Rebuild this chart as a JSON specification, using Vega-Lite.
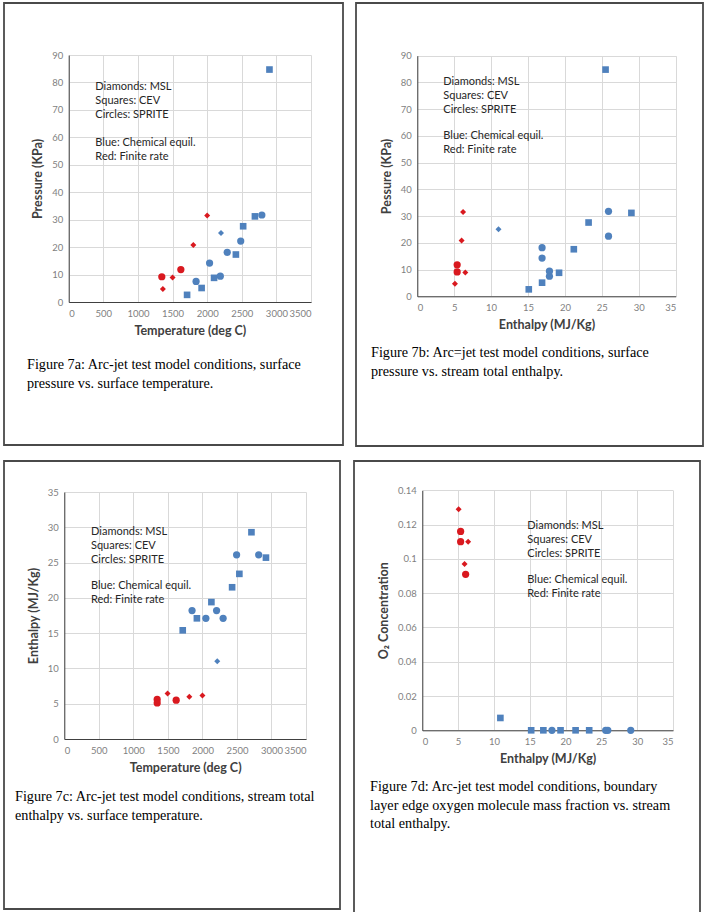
{
  "$schema": "https://vega.github.io/schema/vega-lite/v6.json",
  "padding": {"left": 3, "top": 2, "right": 0, "bottom": 0},
  "background": "white",
  "datasets": {
    "a": [
      {"vehicle": "CEV", "model": "Chemical equil.", "temperature": 2900, "pressure": 84.7},
      {"vehicle": "CEV", "model": "Chemical equil.", "temperature": 2690, "pressure": 31.2},
      {"vehicle": "CEV", "model": "Chemical equil.", "temperature": 2520, "pressure": 27.6},
      {"vehicle": "CEV", "model": "Chemical equil.", "temperature": 2415, "pressure": 17.3},
      {"vehicle": "CEV", "model": "Chemical equil.", "temperature": 2100, "pressure": 8.8},
      {"vehicle": "CEV", "model": "Chemical equil.", "temperature": 1920, "pressure": 5.1},
      {"vehicle": "CEV", "model": "Chemical equil.", "temperature": 1710, "pressure": 2.6},
      {"vehicle": "SPRITE", "model": "Chemical equil.", "temperature": 2790, "pressure": 31.7},
      {"vehicle": "SPRITE", "model": "Chemical equil.", "temperature": 2485, "pressure": 22.2},
      {"vehicle": "SPRITE", "model": "Chemical equil.", "temperature": 2290, "pressure": 18.1},
      {"vehicle": "SPRITE", "model": "Chemical equil.", "temperature": 2035, "pressure": 14.2},
      {"vehicle": "SPRITE", "model": "Chemical equil.", "temperature": 2190, "pressure": 9.4},
      {"vehicle": "SPRITE", "model": "Chemical equil.", "temperature": 1840, "pressure": 7.5},
      {"vehicle": "MSL", "model": "Chemical equil.", "temperature": 2200, "pressure": 25.1},
      {"vehicle": "MSL", "model": "Finite rate", "temperature": 2000, "pressure": 31.5},
      {"vehicle": "MSL", "model": "Finite rate", "temperature": 1800, "pressure": 20.8},
      {"vehicle": "MSL", "model": "Finite rate", "temperature": 1500, "pressure": 8.9},
      {"vehicle": "MSL", "model": "Finite rate", "temperature": 1360, "pressure": 4.7},
      {"vehicle": "SPRITE", "model": "Finite rate", "temperature": 1620, "pressure": 11.8},
      {"vehicle": "SPRITE", "model": "Finite rate", "temperature": 1345, "pressure": 9.2}
    ],
    "b": [
      {"vehicle": "CEV", "model": "Chemical equil.", "enthalpy": 25.5, "pressure": 84.8},
      {"vehicle": "CEV", "model": "Chemical equil.", "enthalpy": 29.0, "pressure": 31.2},
      {"vehicle": "CEV", "model": "Chemical equil.", "enthalpy": 23.2, "pressure": 27.6},
      {"vehicle": "CEV", "model": "Chemical equil.", "enthalpy": 21.2, "pressure": 17.6},
      {"vehicle": "CEV", "model": "Chemical equil.", "enthalpy": 19.2, "pressure": 8.8},
      {"vehicle": "CEV", "model": "Chemical equil.", "enthalpy": 16.9, "pressure": 5.1},
      {"vehicle": "CEV", "model": "Chemical equil.", "enthalpy": 15.1, "pressure": 2.6},
      {"vehicle": "SPRITE", "model": "Chemical equil.", "enthalpy": 25.9, "pressure": 31.8},
      {"vehicle": "SPRITE", "model": "Chemical equil.", "enthalpy": 25.9, "pressure": 22.5},
      {"vehicle": "SPRITE", "model": "Chemical equil.", "enthalpy": 16.9, "pressure": 18.2},
      {"vehicle": "SPRITE", "model": "Chemical equil.", "enthalpy": 16.9, "pressure": 14.3},
      {"vehicle": "SPRITE", "model": "Chemical equil.", "enthalpy": 17.9, "pressure": 9.4},
      {"vehicle": "SPRITE", "model": "Chemical equil.", "enthalpy": 17.9, "pressure": 7.5},
      {"vehicle": "MSL", "model": "Chemical equil.", "enthalpy": 11.0, "pressure": 25.1},
      {"vehicle": "MSL", "model": "Finite rate", "enthalpy": 6.2, "pressure": 31.5},
      {"vehicle": "MSL", "model": "Finite rate", "enthalpy": 6.0, "pressure": 20.9},
      {"vehicle": "MSL", "model": "Finite rate", "enthalpy": 6.5, "pressure": 8.9},
      {"vehicle": "MSL", "model": "Finite rate", "enthalpy": 5.1, "pressure": 4.7},
      {"vehicle": "SPRITE", "model": "Finite rate", "enthalpy": 5.4, "pressure": 11.8},
      {"vehicle": "SPRITE", "model": "Finite rate", "enthalpy": 5.4, "pressure": 9.1}
    ],
    "c": [
      {"vehicle": "CEV", "model": "Chemical equil.", "temperature": 2710, "enthalpy": 29.3},
      {"vehicle": "CEV", "model": "Chemical equil.", "temperature": 2920, "enthalpy": 25.7},
      {"vehicle": "CEV", "model": "Chemical equil.", "temperature": 2535, "enthalpy": 23.4},
      {"vehicle": "CEV", "model": "Chemical equil.", "temperature": 2430, "enthalpy": 21.5},
      {"vehicle": "CEV", "model": "Chemical equil.", "temperature": 2130, "enthalpy": 19.4},
      {"vehicle": "CEV", "model": "Chemical equil.", "temperature": 1920, "enthalpy": 17.1},
      {"vehicle": "CEV", "model": "Chemical equil.", "temperature": 1715, "enthalpy": 15.4},
      {"vehicle": "SPRITE", "model": "Chemical equil.", "temperature": 2495, "enthalpy": 26.1},
      {"vehicle": "SPRITE", "model": "Chemical equil.", "temperature": 2815, "enthalpy": 26.1},
      {"vehicle": "SPRITE", "model": "Chemical equil.", "temperature": 1850, "enthalpy": 18.2},
      {"vehicle": "SPRITE", "model": "Chemical equil.", "temperature": 2205, "enthalpy": 18.2},
      {"vehicle": "SPRITE", "model": "Chemical equil.", "temperature": 2050, "enthalpy": 17.1},
      {"vehicle": "SPRITE", "model": "Chemical equil.", "temperature": 2300, "enthalpy": 17.1},
      {"vehicle": "MSL", "model": "Chemical equil.", "temperature": 2215, "enthalpy": 11.0},
      {"vehicle": "MSL", "model": "Finite rate", "temperature": 1495, "enthalpy": 6.45},
      {"vehicle": "MSL", "model": "Finite rate", "temperature": 1810, "enthalpy": 6.0},
      {"vehicle": "MSL", "model": "Finite rate", "temperature": 2000, "enthalpy": 6.15},
      {"vehicle": "SPRITE", "model": "Finite rate", "temperature": 1345, "enthalpy": 5.6},
      {"vehicle": "SPRITE", "model": "Finite rate", "temperature": 1345, "enthalpy": 5.1},
      {"vehicle": "SPRITE", "model": "Finite rate", "temperature": 1620, "enthalpy": 5.5}
    ],
    "d": [
      {"vehicle": "MSL", "model": "Finite rate", "enthalpy": 5.07, "o2": 0.129},
      {"vehicle": "MSL", "model": "Finite rate", "enthalpy": 6.4, "o2": 0.110},
      {"vehicle": "MSL", "model": "Finite rate", "enthalpy": 5.9, "o2": 0.097},
      {"vehicle": "SPRITE", "model": "Finite rate", "enthalpy": 5.35, "o2": 0.116},
      {"vehicle": "SPRITE", "model": "Finite rate", "enthalpy": 5.35, "o2": 0.110},
      {"vehicle": "SPRITE", "model": "Finite rate", "enthalpy": 6.05, "o2": 0.091},
      {"vehicle": "MSL", "model": "Finite rate", "enthalpy": 6.1, "o2": 0.091},
      {"vehicle": "CEV", "model": "Chemical equil.", "enthalpy": 10.9, "o2": 0.0072},
      {"vehicle": "CEV", "model": "Chemical equil.", "enthalpy": 15.2, "o2": 0},
      {"vehicle": "CEV", "model": "Chemical equil.", "enthalpy": 16.9, "o2": 0},
      {"vehicle": "CEV", "model": "Chemical equil.", "enthalpy": 19.3, "o2": 0},
      {"vehicle": "CEV", "model": "Chemical equil.", "enthalpy": 21.4, "o2": 0},
      {"vehicle": "CEV", "model": "Chemical equil.", "enthalpy": 23.3, "o2": 0},
      {"vehicle": "SPRITE", "model": "Chemical equil.", "enthalpy": 18.1, "o2": 0},
      {"vehicle": "SPRITE", "model": "Chemical equil.", "enthalpy": 25.6, "o2": 0},
      {"vehicle": "SPRITE", "model": "Chemical equil.", "enthalpy": 25.9, "o2": 0},
      {"vehicle": "SPRITE", "model": "Chemical equil.", "enthalpy": 29.1, "o2": 0}
    ]
  },
  "spacing": 13,
  "vconcat": [
    {
      "spacing": 11,
      "hconcat": [
        {
          "width": 339, "height": 442,
          "title": {"text": ["Figure 7a: Arc-jet test model conditions, surface", "pressure vs. surface temperature."], "orient": "bottom", "anchor": "start", "offset": -87, "dx": 23},
          "resolve": {"axis": {"x": "independent"}},
          "layer": [
            {
              "data": {"values": [{}]},
              "mark": {"type": "text", "align": "left", "baseline": "top", "font": "Lato", "fontSize": 11, "lineHeight": 14, "color": "#262626", "text": ["Diamonds: MSL", "Squares: CEV", "Circles: SPRITE"]},
              "encoding": {
                "x": {"datum": 385, "type": "quantitative", "axis": {"orient": "top", "grid": true, "labels": false, "domain": false, "ticks": false, "title": null, "values": [0, 500, 1000, 1500, 2000, 2500, 3000, 3500]}},
                "y": {"datum": 80.5, "type": "quantitative"}
              }
            },
            {
              "data": {"values": [{}]},
              "mark": {"type": "text", "align": "left", "baseline": "top", "font": "Lato", "fontSize": 11, "lineHeight": 14, "color": "#262626", "text": ["Blue: Chemical equil.", "Red: Finite rate"]},
              "encoding": {
                "x": {"datum": 385, "type": "quantitative", "axis": null},
                "y": {"datum": 60, "type": "quantitative"}
              }
            },
            {
              "data": {"name": "a"},
              "mark": {"type": "point", "filled": true, "opacity": 1},
              "encoding": {
                "x": {"field": "temperature", "type": "quantitative", "scale": {"domain": [0, 3500], "range": [64.7, 307], "nice": false}, "axis": {"orient": "bottom", "title": "Temperature (deg C)", "grid": false, "values": [0, 500, 1000, 1500, 2000, 2500, 3000, 3500], "offset": -143}},
                "y": {"field": "pressure", "type": "quantitative", "scale": {"domain": [0, 90], "range": [299, 52], "nice": false}, "axis": {"title": "Pressure (KPa)", "values": [0, 10, 20, 30, 40, 50, 60, 70, 80, 90], "offset": -64.7}},
                "shape": {"field": "vehicle", "type": "nominal", "scale": {"domain": ["MSL", "CEV", "SPRITE"], "range": ["diamond", "square", "circle"]}, "legend": null},
                "size": {"field": "vehicle", "type": "nominal", "scale": {"domain": ["MSL", "CEV", "SPRITE"], "range": [36, 52, 50]}, "legend": null},
                "color": {"field": "model", "type": "nominal", "scale": {"domain": ["Chemical equil.", "Finite rate"], "range": ["#4F81BD", "#D9191F"]}, "legend": null}
              }
            }
          ]
        },
        {
          "width": 347, "height": 443,
          "title": {"text": ["Figure 7b: Arc=jet test model conditions, surface", "pressure vs. stream total enthalpy."], "orient": "bottom", "anchor": "start", "offset": -100, "dx": 15},
          "resolve": {"axis": {"x": "independent"}},
          "layer": [
            {
              "data": {"values": [{}]},
              "mark": {"type": "text", "align": "left", "baseline": "top", "font": "Lato", "fontSize": 11, "lineHeight": 14, "color": "#262626", "text": ["Diamonds: MSL", "Squares: CEV", "Circles: SPRITE"]},
              "encoding": {
                "x": {"datum": 3.52, "type": "quantitative", "axis": {"orient": "top", "grid": true, "labels": false, "domain": false, "ticks": false, "title": null, "values": [0, 5, 10, 15, 20, 25, 30, 35]}},
                "y": {"datum": 82.4, "type": "quantitative"}
              }
            },
            {
              "data": {"values": [{}]},
              "mark": {"type": "text", "align": "left", "baseline": "top", "font": "Lato", "fontSize": 11, "lineHeight": 14, "color": "#262626", "text": ["Blue: Chemical equil.", "Red: Finite rate"]},
              "encoding": {
                "x": {"datum": 3.52, "type": "quantitative", "axis": null},
                "y": {"datum": 62.2, "type": "quantitative"}
              }
            },
            {
              "data": {"name": "b"},
              "mark": {"type": "point", "filled": true, "opacity": 1},
              "encoding": {
                "x": {"field": "enthalpy", "type": "quantitative", "scale": {"domain": [0, 35], "range": [61.3, 319.7], "nice": false}, "axis": {"orient": "bottom", "title": "Enthalpy (MJ/Kg)", "grid": false, "values": [0, 5, 10, 15, 20, 25, 30, 35], "offset": -149.7}},
                "y": {"field": "pressure", "type": "quantitative", "scale": {"domain": [0, 90], "range": [293.3, 52.7], "nice": false}, "axis": {"title": "Pessure (KPa)", "values": [0, 10, 20, 30, 40, 50, 60, 70, 80, 90], "offset": -61.3}},
                "shape": {"field": "vehicle", "type": "nominal", "scale": {"domain": ["MSL", "CEV", "SPRITE"], "range": ["diamond", "square", "circle"]}, "legend": null},
                "size": {"field": "vehicle", "type": "nominal", "scale": {"domain": ["MSL", "CEV", "SPRITE"], "range": [36, 52, 50]}, "legend": null},
                "color": {"field": "model", "type": "nominal", "scale": {"domain": ["Chemical equil.", "Finite rate"], "range": ["#4F81BD", "#D9191F"]}, "legend": null}
              }
            }
          ]
        }
      ]
    },
    {
      "spacing": 12,
      "hconcat": [
        {
          "width": 336, "height": 448,
          "title": {"text": ["Figure 7c: Arc-jet test model conditions, stream total", "enthalpy vs. surface temperature."], "orient": "bottom", "anchor": "start", "offset": -119, "dx": 11},
          "resolve": {"axis": {"x": "independent"}},
          "layer": [
            {
              "data": {"values": [{}]},
              "mark": {"type": "text", "align": "left", "baseline": "top", "font": "Lato", "fontSize": 11, "lineHeight": 14, "color": "#262626", "text": ["Diamonds: MSL", "Squares: CEV", "Circles: SPRITE"]},
              "encoding": {
                "x": {"datum": 387, "type": "quantitative", "axis": {"orient": "top", "grid": true, "labels": false, "domain": false, "ticks": false, "title": null, "values": [0, 500, 1000, 1500, 2000, 2500, 3000, 3500]}},
                "y": {"datum": 30.2, "type": "quantitative"}
              }
            },
            {
              "data": {"values": [{}]},
              "mark": {"type": "text", "align": "left", "baseline": "top", "font": "Lato", "fontSize": 11, "lineHeight": 14, "color": "#262626", "text": ["Blue: Chemical equil.", "Red: Finite rate"]},
              "encoding": {
                "x": {"datum": 387, "type": "quantitative", "axis": null},
                "y": {"datum": 22.5, "type": "quantitative"}
              }
            },
            {
              "data": {"name": "c"},
              "mark": {"type": "point", "filled": true, "opacity": 1},
              "encoding": {
                "x": {"field": "temperature", "type": "quantitative", "scale": {"domain": [0, 3500], "range": [60.3, 302], "nice": false}, "axis": {"orient": "bottom", "title": "Temperature (deg C)", "grid": false, "values": [0, 500, 1000, 1500, 2000, 2500, 3000, 3500], "offset": -170}},
                "y": {"field": "enthalpy", "type": "quantitative", "scale": {"domain": [0, 35], "range": [278, 31], "nice": false}, "axis": {"title": "Enthalpy (MJ/Kg)", "values": [0, 5, 10, 15, 20, 25, 30, 35], "offset": -60.3}},
                "shape": {"field": "vehicle", "type": "nominal", "scale": {"domain": ["MSL", "CEV", "SPRITE"], "range": ["diamond", "square", "circle"]}, "legend": null},
                "size": {"field": "vehicle", "type": "nominal", "scale": {"domain": ["MSL", "CEV", "SPRITE"], "range": [36, 52, 50]}, "legend": null},
                "color": {"field": "model", "type": "nominal", "scale": {"domain": ["Chemical equil.", "Finite rate"], "range": ["#4F81BD", "#D9191F"]}, "legend": null}
              }
            }
          ]
        },
        {
          "width": 346, "height": 453,
          "title": {"text": ["Figure 7d: Arc-jet test model conditions, boundary", "layer edge oxygen molecule mass fraction vs. stream", "total enthalpy."], "orient": "bottom", "anchor": "start", "offset": -134, "dx": 16},
          "resolve": {"axis": {"x": "independent"}},
          "layer": [
            {
              "data": {"values": [{}]},
              "mark": {"type": "text", "align": "left", "baseline": "top", "font": "Lato", "fontSize": 11, "lineHeight": 14, "color": "#262626", "text": ["Diamonds: MSL", "Squares: CEV", "Circles: SPRITE"]},
              "encoding": {
                "x": {"datum": 14.66, "type": "quantitative", "axis": {"orient": "top", "grid": true, "labels": false, "domain": false, "ticks": false, "title": null, "values": [0, 5, 10, 15, 20, 25, 30, 35]}},
                "y": {"datum": 0.1224, "type": "quantitative"}
              }
            },
            {
              "data": {"values": [{}]},
              "mark": {"type": "text", "align": "left", "baseline": "top", "font": "Lato", "fontSize": 11, "lineHeight": 14, "color": "#262626", "text": ["Blue: Chemical equil.", "Red: Finite rate"]},
              "encoding": {
                "x": {"datum": 14.66, "type": "quantitative", "axis": null},
                "y": {"datum": 0.0912, "type": "quantitative"}
              }
            },
            {
              "data": {"name": "d"},
              "mark": {"type": "point", "filled": true, "opacity": 1},
              "encoding": {
                "x": {"field": "enthalpy", "type": "quantitative", "scale": {"domain": [0, 35], "range": [68.3, 319], "nice": false}, "axis": {"orient": "bottom", "title": "Enthalpy (MJ/Kg)", "grid": false, "values": [0, 5, 10, 15, 20, 25, 30, 35], "offset": -183.7}},
                "y": {"field": "o2", "type": "quantitative", "scale": {"domain": [0, 0.14], "range": [269.3, 29.3], "nice": false}, "axis": {"title": "O₂ Concentration", "values": [0, 0.02, 0.04, 0.06, 0.08, 0.1, 0.12, 0.14], "format": "~g", "offset": -68.3}},
                "shape": {"field": "vehicle", "type": "nominal", "scale": {"domain": ["MSL", "CEV", "SPRITE"], "range": ["diamond", "square", "circle"]}, "legend": null},
                "size": {"field": "vehicle", "type": "nominal", "scale": {"domain": ["MSL", "CEV", "SPRITE"], "range": [36, 52, 50]}, "legend": null},
                "color": {"field": "model", "type": "nominal", "scale": {"domain": ["Chemical equil.", "Finite rate"], "range": ["#4F81BD", "#D9191F"]}, "legend": null}
              }
            }
          ]
        }
      ]
    }
  ],
  "config": {
    "view": {"stroke": "#4a4a4a", "strokeWidth": 1.8},
    "axis": {
      "labelFont": "Lato", "labelFontSize": 9.5, "labelColor": "#7f7f7f", "labelPadding": 6, "labelOverlap": false,
      "titleFont": "Lato", "titleFontSize": 12.5, "titleFontWeight": "bold", "titleColor": "#404040", "titlePadding": 7,
      "gridColor": "#d9d9d9", "gridWidth": 1, "domainColor": "#404040", "domainWidth": 1, "ticks": false, "grid": true
    },
    "axisX": {"format": "d"},
    "title": {"font": "Liberation Serif", "fontSize": 14.2, "fontWeight": "normal", "color": "#000000", "lineHeight": 18.5, "frame": "bounds"}
  }
}
